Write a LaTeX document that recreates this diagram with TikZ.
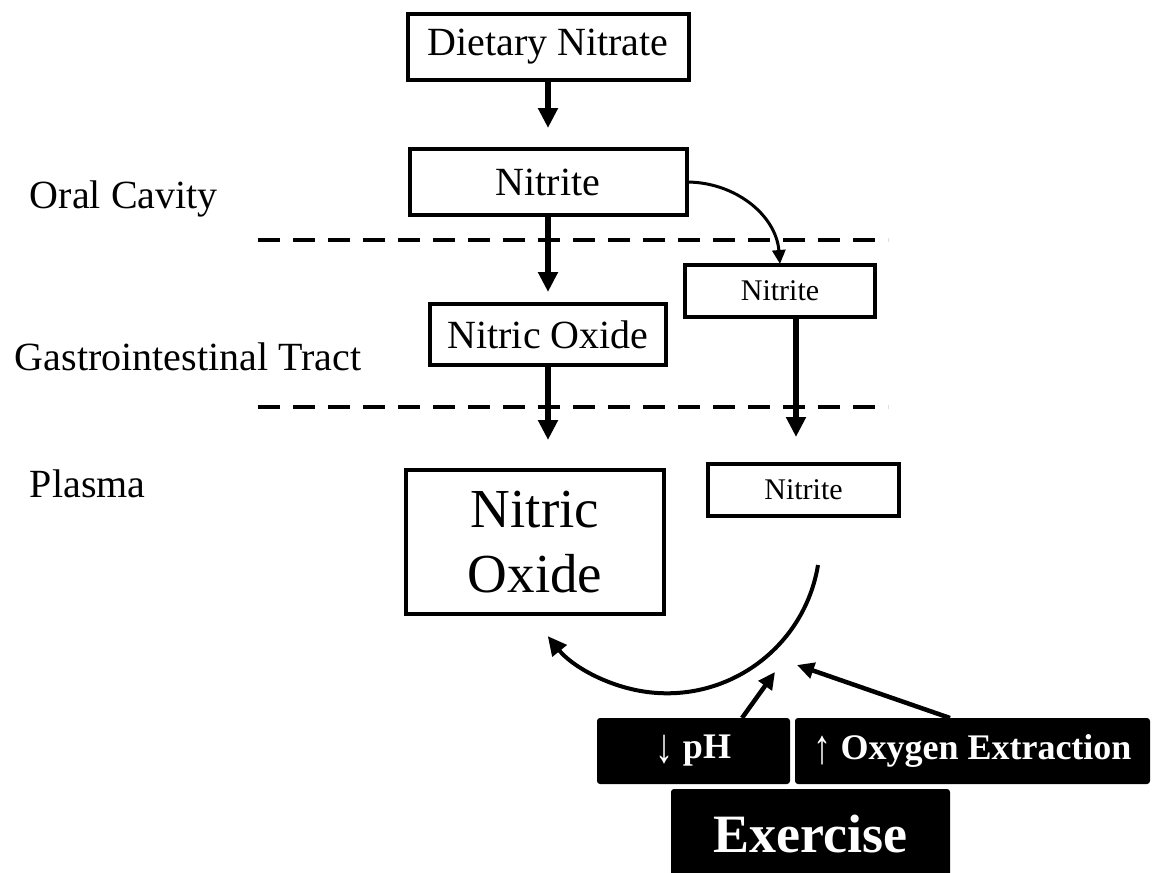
\documentclass[tikz,border=0pt]{standalone}
\usepackage{fontspec}
\setmainfont{Liberation Serif}
\usetikzlibrary{arrows.meta}
\newcommand{\bigarrowglyph}[1]{\raisebox{-4pt}{\mdseries\scalebox{1}[1.35]{#1}}}
\tikzset{
  every node/.style={inner sep=0pt, outer sep=0pt},
  box/.style={draw, line width=4pt, align=center, fill=white},
  lbl/.style={anchor=base west, font=\fontsize{40}{48}\selectfont},
  bigtxt/.style={font=\fontsize{40}{48}\selectfont},
  smalltxt/.style={font=\fontsize{30}{36}\selectfont},
  hugetxt/.style={font=\fontsize{55}{65}\selectfont},
  blk/.style={fill=black, text=white, rounded corners=3pt},
  arr/.style={line width=5.5pt, -{Triangle[length=20pt,width=19pt]}},
  carr/.style={line width=3pt, -{Triangle[length=14pt,width=13pt]}},
  arcarr/.style={line width=4pt, -{Triangle[length=19pt,width=18pt]}},
  parr/.style={line width=4.5pt, -{Triangle[length=17pt,width=16pt]}},
  dl/.style={line width=4pt, dash pattern=on 22pt off 13pt},
}
\begin{document}
\begin{tikzpicture}[x=1pt,y=-1pt]
\useasboundingbox (0,0) rectangle (1160,873);

% dashed separators
\coordinate (d1s) at (258,240); \coordinate (d1e) at (888,240);
\coordinate (d2s) at (258,407); \coordinate (d2e) at (888,407);
\draw[dl] (d1s) -- (d1e);
\draw[dl] (d2s) -- (d2e);

% region labels
\node[lbl] (oral) at (30,208) {Oral Cavity};
\node[lbl] (gi) at (15,370) {Gastrointestinal Tract};
\node[lbl] (plasma) at (30,497) {Plasma};

% boxes
\node[box, bigtxt, minimum width=281pt, minimum height=66pt] (diet) at (548,47) {Dietary Nitrate};
\node[box, bigtxt, minimum width=277pt, minimum height=66pt] (nit1) at (548,182) {Nitrite};
\node[box, smalltxt, minimum width=190pt, minimum height=52pt] (nit2) at (780,291) {Nitrite};
\node[box, bigtxt, minimum width=236pt, minimum height=61pt] (gino) at (548,334.5) {Nitric Oxide};
\node[box, hugetxt, minimum width=258pt, minimum height=144pt] (bigno) at (535,542) {Nitric\\Oxide};
\node[box, smalltxt, minimum width=191pt, minimum height=52pt] (nit3) at (803.5,490) {Nitrite};

% black boxes
\node[blk, font=\bfseries\fontsize{36}{42}\selectfont, minimum width=193pt, minimum height=66pt] (ph) at (693.5,751) {\bigarrowglyph{↓} pH};
\node[blk, font=\bfseries\fontsize{36}{42}\selectfont, minimum width=355pt, minimum height=66pt] (o2) at (972.5,751) {\bigarrowglyph{↑} Oxygen Extraction};
\node[blk, font=\bfseries\fontsize{54}{60}\selectfont, minimum width=279pt, minimum height=91pt] (ex) at (810.5,834.5) {Exercise};

% vertical arrows
\coordinate (a1) at (548,128);
\coordinate (a2) at (548,292);
\coordinate (a3) at (548,440);
\coordinate (a4s) at (796,317);
\coordinate (a4) at (796,437);
\draw[arr] (diet.south) -- (a1);
\draw[arr] (nit1.south) -- (a2);
\draw[arr] (gino.south) -- (a3);
\draw[arr] (a4s) -- (a4);

% curved arrow from oral nitrite to GI nitrite
\draw[carr] (nit1.east) .. controls (735,182) and (776,215) .. ([yshift=1pt]nit2.north);

% arc from plasma nitrite to nitric oxide
\coordinate (arcS) at (818,565);
\draw[arcarr] (arcS) arc[start angle=9.3, end angle=141.2, radius=153];

% exercise effects
\coordinate (phT) at (742,718);
\coordinate (phH) at (775,672);
\coordinate (o2T) at (950,718);
\coordinate (o2H) at (797,665);
\draw[parr] (phT) -- (phH);
\draw[parr] (o2T) -- (o2H);
\end{tikzpicture}
\end{document}
